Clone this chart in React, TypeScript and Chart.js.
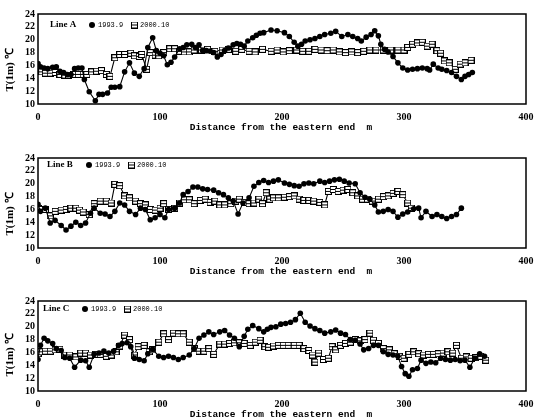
import React, { useEffect, useRef } from "react";
import { Chart, registerables } from "chart.js";
Chart.register(...registerables);

// ---------- tick labels ----------
const X_TICKS = [0, 100, 200, 300, 400];
const Y_TICKS = [10, 12, 14, 16, 18, 20, 22, 24];

// ---------- Line A ----------
const A1993_X = [0,2,5,8,12,15,18,21,24,27,30,33,36,38,42,47,50,53,57,60,63,67,71,75,79,83,87,90,94,97,100,103,106,109,112,116,119,122,126,129,132,135,138,141,144,147,150,153,156,160,163,166,169,172,176,179,182,185,191,196,202,206,210,213,216,219,223,227,231,235,240,244,249,254,258,262,265,269,273,276,279,281,284,287,291,295,299,303,307,311,315,319,321,324,328,331,335,339,343,347,350,353,356];
const A1993_T = [16.3,15.8,15.6,15.5,15.7,15.8,15.1,14.9,14.6,14.6,15.5,15.6,15.6,13.8,11.9,10.5,11.5,11.5,11.7,12.6,12.6,12.7,15.0,16.4,14.8,14.3,15.5,18.8,20.3,18.3,17.9,17.5,16.1,16.5,17.3,18.6,18.8,19.2,19.3,18.8,19.2,18.3,18.3,18.2,18.0,17.3,17.7,18.3,18.7,19.2,19.4,19.3,19.0,19.8,20.3,20.7,21.0,21.1,21.5,21.4,21.1,20.5,19.6,19.0,19.3,19.8,20.0,20.2,20.5,20.8,21.0,21.3,20.5,20.8,20.5,20.2,19.8,20.4,20.8,21.4,20.6,19.3,18.5,18.1,17.4,16.4,15.6,15.3,15.4,15.5,15.6,15.5,15.3,16.2,15.6,15.4,15.2,14.9,14.3,13.8,14.3,14.6,14.9];
const A2000_X = [0,3,6,10,14,18,22,25,29,33,37,40,44,48,52,56,59,63,67,71,76,79,83,85,89,92,96,99,103,108,112,116,120,124,128,134,139,145,151,156,162,167,173,178,184,191,196,201,206,212,217,222,227,232,237,242,247,252,257,262,267,272,277,283,289,295,300,303,307,311,315,319,323,327,330,333,337,342,346,350,355];
const A2000_T = [15.5,15.0,14.8,14.8,14.9,14.6,14.5,14.5,14.6,14.6,14.6,14.6,15.0,15.1,15.2,14.6,14.3,17.2,17.7,17.7,17.9,17.5,17.4,17.7,15.4,18.0,17.6,17.5,18.0,18.6,18.6,18.2,18.1,18.1,18.4,18.4,18.5,18.2,18.4,18.5,18.2,18.5,18.2,18.1,18.5,18.2,18.4,18.1,18.3,18.4,18.2,18.2,18.5,18.4,18.3,18.4,18.1,18.0,18.1,18.0,18.2,18.4,18.4,18.4,18.4,18.4,18.4,18.8,19.3,19.5,19.6,19.0,19.3,18.3,17.9,16.7,16.4,15.4,16.2,16.4,16.8];

// ---------- Line B ----------
const B1993_X = [0,2,6,10,14,19,23,27,31,35,39,43,46,51,55,59,63,67,71,75,80,84,88,92,96,100,104,107,112,116,119,123,127,131,135,139,144,148,152,156,160,164,168,173,177,181,185,189,193,197,202,206,210,214,218,222,226,231,235,239,243,247,251,255,260,264,268,272,276,279,283,287,291,295,299,303,308,312,314,318,323,327,331,335,339,343,347];
const B1993_T = [16.8,15.7,16.2,13.9,14.3,13.5,12.8,13.4,14.0,13.5,13.9,15.4,16.2,15.4,15.3,14.9,15.7,17.0,16.7,15.7,15.2,16.2,16.0,14.4,14.7,15.2,14.7,16.0,16.2,17.0,18.3,18.8,19.5,19.5,19.2,19.1,19.0,18.6,18.3,17.8,17.3,15.3,17.0,17.8,19.6,20.2,20.5,20.2,20.4,20.6,20.1,19.9,19.7,19.6,20.0,20.1,20.0,20.4,20.2,20.4,20.6,20.7,20.4,20.1,20.0,18.6,17.9,17.6,16.7,15.6,15.7,16.0,15.7,14.8,15.3,15.6,16.1,16.2,14.7,15.7,14.9,15.2,14.9,14.6,14.9,15.2,16.2];
const B2000_X = [0,2,6,10,14,19,23,27,31,34,37,42,46,51,56,60,63,67,71,75,80,84,88,92,96,100,103,107,112,116,120,124,128,133,137,141,145,149,153,158,162,165,169,173,177,181,184,187,190,193,197,202,206,210,214,218,222,226,231,235,238,242,246,250,254,258,262,266,270,274,279,283,287,291,295,299,303,306];
const B2000_T = [16.2,16.0,16.0,15.0,15.7,15.9,16.0,16.2,16.2,15.9,15.6,15.2,16.9,17.3,17.3,17.0,19.9,19.7,18.1,17.8,17.3,16.9,16.7,16.0,15.9,16.2,16.9,16.0,16.2,17.0,17.5,17.5,16.9,17.4,17.6,17.1,17.3,16.7,16.7,16.9,17.3,17.6,17.1,16.9,17.0,17.6,16.9,18.6,17.6,17.8,17.8,17.9,18.0,18.1,17.6,17.4,17.4,17.3,17.1,16.7,18.8,19.1,18.8,19.0,19.1,18.6,18.1,17.6,17.6,17.3,17.6,18.0,18.1,18.5,18.8,18.3,17.0,16.2];

// ---------- Line C ----------
const C1993_X = [0,2,5,8,12,15,19,22,26,30,35,39,42,46,50,54,58,62,66,69,73,76,79,83,87,90,94,99,103,107,111,115,119,124,128,132,136,140,144,149,153,157,161,165,169,172,176,181,185,188,191,195,199,203,207,211,215,219,223,227,231,235,240,244,248,252,256,260,264,267,271,275,279,283,287,291,295,298,301,304,307,311,314,318,322,326,330,334,338,342,346,350,354,358,362,366];
const C1993_T = [14.9,17.1,18.2,17.8,17.4,16.6,16.3,15.2,15.1,13.7,14.8,14.7,13.7,15.7,15.9,16.2,15.9,16.2,17.1,17.4,17.5,16.9,15.1,14.9,14.7,15.8,16.5,15.4,15.2,15.4,15.2,14.9,15.2,15.6,16.6,18.2,18.7,19.2,18.8,19.2,19.4,18.7,18.2,16.9,18.5,19.6,20.2,19.7,19.2,19.6,19.9,20.0,20.4,20.5,20.7,21.1,22.1,20.7,20.1,19.7,19.4,19.0,19.2,19.5,19.0,18.8,18.0,17.9,17.3,16.4,16.6,17.1,17.1,16.1,15.7,15.6,15.4,13.8,12.7,12.3,13.3,13.5,14.8,14.3,14.5,14.4,15.1,14.9,14.8,14.9,14.7,14.8,13.7,15.1,15.8,15.4];
const C2000_X = [0,2,6,10,14,18,22,26,31,35,39,43,47,51,56,60,64,67,71,75,79,82,87,91,94,99,103,107,111,115,119,124,128,132,136,140,144,149,153,157,161,165,169,174,178,182,186,189,193,197,201,205,210,214,218,222,225,227,230,234,238,241,244,248,252,256,260,264,268,272,275,279,283,288,292,296,300,304,308,312,316,320,324,328,332,336,340,343,347,351,355,359,363,367];
const C2000_T = [15.8,16.1,16.2,16.2,16.4,16.5,15.6,15.6,15.3,15.9,15.9,15.6,15.7,15.7,15.4,15.6,16.1,17.0,18.7,18.0,15.6,16.9,17.1,16.1,16.4,17.6,18.9,18.0,19.0,18.9,18.9,17.6,16.6,16.2,16.2,16.6,15.7,17.3,17.3,17.4,17.5,17.5,17.4,17.1,17.6,17.9,16.9,16.8,17.0,17.1,17.1,17.1,17.1,17.1,16.6,16.3,15.6,14.5,15.9,14.9,15.1,16.9,16.4,17.1,17.4,17.6,18.0,17.8,18.0,19.0,17.9,17.4,16.6,16.4,15.8,15.4,15.1,15.7,16.1,15.8,15.6,15.7,15.7,15.8,15.9,16.1,15.9,17.1,15.1,15.3,15.1,15.2,15.4,14.8];

const LABEL_1993 = "1993.9";
const LABEL_2000 = "2000.10";
const X_TITLE = "Distance from the eastern end  m";
const Y_TITLE = "T(1m) \u2103";

const W = 535;
const CHART_LEFT = 38;
const CHART_RIGHT = 526;

function makeSquareGlyph(): HTMLCanvasElement {
  const c = document.createElement("canvas");
  c.width = 7;
  c.height = 7;
  const g = c.getContext("2d")!;
  g.fillStyle = "#fff";
  g.fillRect(0.5, 0.5, 6, 6);
  g.strokeStyle = "#000";
  g.lineWidth = 1;
  g.strokeRect(0.5, 0.5, 6, 6);
  g.beginPath();
  g.moveTo(1, 3.5);
  g.lineTo(6, 3.5);
  g.stroke();
  return c;
}

type PanelProps = {
  name: string;
  x1: number[];
  t1: number[];
  x2: number[];
  t2: number[];
  canvasTop: number;
  canvasH: number;
  chartTop: number;
  chartBottom: number;
  xTitleY: number;
  yTitleY: number;
  legendDx: number;
  legendDy: number;
};

function Panel(p: PanelProps) {
  const ref = useRef<HTMLCanvasElement | null>(null);
  useEffect(() => {
    const canvas = ref.current!;
    const sq = makeSquareGlyph();
    const top = p.chartTop - p.canvasTop;
    const bottom = p.chartBottom - p.canvasTop;
    const tickFont = { family: '"Liberation Serif", serif', size: 10, weight: "bold" as const };
    const decor = {
      id: "decor",
      afterDraw(chart: any) {
        const ctx = chart.ctx as CanvasRenderingContext2D;
        const a = chart.chartArea;
        ctx.save();
        // frame
        ctx.strokeStyle = "#000";
        ctx.lineWidth = 1.5;
        ctx.strokeRect(a.left, a.top, a.right - a.left, a.bottom - a.top);
        // legend
        const lx = a.left + p.legendDx;
        const ly = a.top + p.legendDy;
        ctx.fillStyle = "#000";
        ctx.textBaseline = "middle";
        ctx.textAlign = "left";
        ctx.font = 'bold 9px "Liberation Serif"';
        ctx.fillText(p.name, lx, ly);
        ctx.beginPath();
        ctx.arc(lx + 42, ly, 3, 0, Math.PI * 2);
        ctx.fill();
        ctx.font = '7px "Liberation Mono"';
        ctx.fillText(LABEL_1993, lx + 48, ly + 0.5);
        ctx.drawImage(sq, lx + 81, ly - 3.5);
        ctx.fillText(LABEL_2000, lx + 90, ly + 0.5);
        // x title
        ctx.font = 'bold 9.5px "Liberation Mono"';
        ctx.textAlign = "center";
        ctx.fillText(X_TITLE, 281, p.xTitleY - p.canvasTop);
        // y title
        ctx.save();
        ctx.translate(10, p.yTitleY - p.canvasTop);
        ctx.rotate(-Math.PI / 2);
        ctx.font = 'bold 11px "Liberation Serif"';
        ctx.fillText(Y_TITLE, 0, 0);
        ctx.restore();
        ctx.restore();
      },
    };
    const chart = new Chart(canvas, {
      type: "line",
      data: {
        datasets: [
          {
            label: LABEL_1993,
            data: p.x1.map((x, i) => ({ x, y: p.t1[i] })),
            borderColor: "#000",
            borderWidth: 1.1,
            backgroundColor: "#000",
            pointStyle: "circle",
            pointRadius: 2.8,
            pointBorderWidth: 0,
            pointBackgroundColor: "#000",
            tension: 0,
            fill: false,
          },
          {
            label: LABEL_2000,
            data: p.x2.map((x, i) => ({ x, y: p.t2[i] })),
            borderColor: "#000",
            borderWidth: 1.1,
            backgroundColor: "#fff",
            pointStyle: sq as any,
            pointRadius: 3.5,
            tension: 0,
            fill: false,
          },
        ],
      },
      options: {
        animation: false,
        responsive: false,
        maintainAspectRatio: false,
        layout: { padding: { left: 0, right: W - CHART_RIGHT, top, bottom: 0 } },
        plugins: { legend: { display: false }, tooltip: { enabled: false } },
        scales: {
          x: {
            type: "linear",
            min: 0,
            max: 400,
            afterBuildTicks: (s: any) => {
              s.ticks = X_TICKS.map((v) => ({ value: v }));
            },
            afterFit: (s: any) => {
              s.height = p.canvasH - bottom;
              s.paddingLeft = 0;
              s.paddingRight = 0;
            },
            grid: { display: false, drawTicks: false },
            border: { display: false },
            ticks: { padding: 7, color: "#000", font: tickFont, maxRotation: 0, autoSkip: false },
          },
          y: {
            type: "linear",
            min: 10,
            max: 24,
            afterBuildTicks: (s: any) => {
              s.ticks = Y_TICKS.map((v) => ({ value: v }));
            },
            afterFit: (s: any) => {
              s.width = CHART_LEFT;
              s.paddingTop = 0;
              s.paddingBottom = 0;
            },
            grid: { display: false, drawTicks: false },
            border: { display: false },
            ticks: { padding: 3, color: "#000", font: tickFont, autoSkip: false },
          },
        },
      },
      plugins: [decor],
    });
    return () => chart.destroy();
  }, []);
  return (
    <canvas
      ref={ref}
      width={W}
      height={p.canvasH}
      style={{ position: "absolute", left: 0, top: p.canvasTop, width: W, height: p.canvasH, display: "block" }}
    />
  );
}

export default function App() {
  return (
    <div style={{ position: "absolute", left: 0, top: 0, width: W, height: 419, background: "#fff" }}>
      <Panel name="Line A" x1={A1993_X} t1={A1993_T} x2={A2000_X} t2={A2000_T}
        canvasTop={0} canvasH={140} chartTop={14} chartBottom={104} xTitleY={128} yTitleY={70} legendDx={12} legendDy={11} />
      <Panel name="Line B" x1={B1993_X} t1={B1993_T} x2={B2000_X} t2={B2000_T}
        canvasTop={140} canvasH={140} chartTop={158} chartBottom={248} xTitleY={272} yTitleY={214} legendDx={9} legendDy={7} />
      <Panel name="Line C" x1={C1993_X} t1={C1993_T} x2={C2000_X} t2={C2000_T}
        canvasTop={279} canvasH={140} chartTop={301} chartBottom={391} xTitleY={415} yTitleY={355} legendDx={5} legendDy={8} />
    </div>
  );
}
